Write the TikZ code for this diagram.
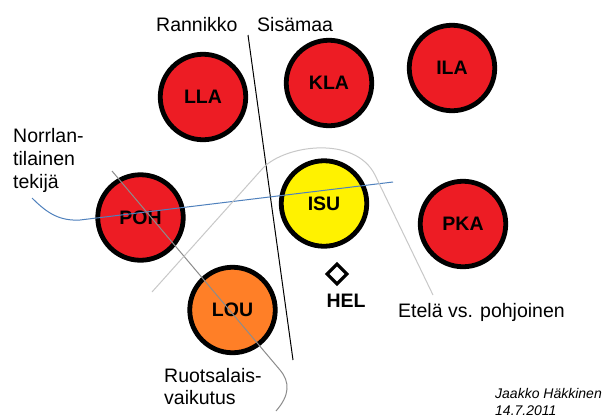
\documentclass[tikz,border=0pt]{standalone}
\usepackage{fontspec}
\setmainfont{Liberation Sans}
\usetikzlibrary{shapes.geometric}
\definecolor{regred}{RGB}{237,28,36}
\definecolor{regyellow}{RGB}{255,242,0}
\definecolor{regorange}{RGB}{255,127,39}
\definecolor{northblue}{RGB}{79,129,189}
\definecolor{swedegrey}{RGB}{140,140,140}
\definecolor{southgrey}{RGB}{200,200,200}

\begin{document}
\begin{tikzpicture}[x=1pt,y=-1pt,
  region/.style={circle,draw=black,line width=4.8pt,minimum size=85.5pt,inner sep=0pt,
    font=\fontsize{19.5}{22}\selectfont\bfseries},
  lbl/.style={font=\fontsize{19.5}{23}\selectfont,inner sep=0pt,align=left},
  thin line/.style={line width=1pt}]
\useasboundingbox[fill=white] (0,0) rectangle (607,418);

% dialect regions
\node[region,fill=regred]    (lla) at (203,97)    {LLA};
\node[region,fill=regred]    (kla) at (329,83)    {KLA};
\node[region,fill=regred]    (ila) at (452,68)    {ILA};
\node[region,fill=regred]    (poh) at (140.5,217.5) {POH};
\node[region,fill=regyellow] (isu) at (324,203.5) {ISU};
\node[region,fill=regred]    (pka) at (463,224)   {PKA};
\node[region,fill=regorange] (lou) at (232.5,310) {LOU};

% Helsinki
\node[diamond,draw=black,fill=white,line width=3.2pt,minimum size=21pt,inner sep=0pt] (hel) at (337,274) {};
\node[font=\fontsize{19.5}{22}\selectfont\bfseries,inner sep=0pt,anchor=base] (hellbl) at (346,307) {HEL};

% dividing lines
\draw[thin line,black] (248,35) coordinate (coastA) -- (293,360) coordinate (coastB);
\draw[thin line,northblue] (32,198) coordinate (nA)
  .. controls (48,214) and (60,221) .. (80,220) -- (393,182) coordinate (nB);
\draw[thin line,swedegrey] (112,171) coordinate (sA) -- (280,370)
  .. controls (290,382) and (290,395) .. (276,411) coordinate (sB);
\draw[thin line,southgrey] (152,292) coordinate (eA) -- (263,168)
  .. controls (285,145) and (355,135) .. (375,175) -- (433,295) coordinate (eB);

% labels
\node[lbl,anchor=base west] (rannikko) at (156,31) {Rannikko};
\node[lbl,anchor=base west] (sisamaa) at (257,31) {Sisämaa};
\node[lbl,anchor=north west] (norr) at (13,128) {Norrlan-\\tilainen\\tekijä};
\node[lbl,anchor=north west,font=\fontsize{19.5}{22}\selectfont] (ruots) at (164,368) {Ruotsalais-\\vaikutus};
\node[lbl,anchor=base west] (etela) at (398,317) {Etelä vs. pohjoinen};
\node[anchor=north west,inner sep=0pt,align=left,font=\fontsize{14}{17}\selectfont\itshape] (author) at (495,388) {Jaakko Häkkinen\\14.7.2011};
\end{tikzpicture}
\end{document}
